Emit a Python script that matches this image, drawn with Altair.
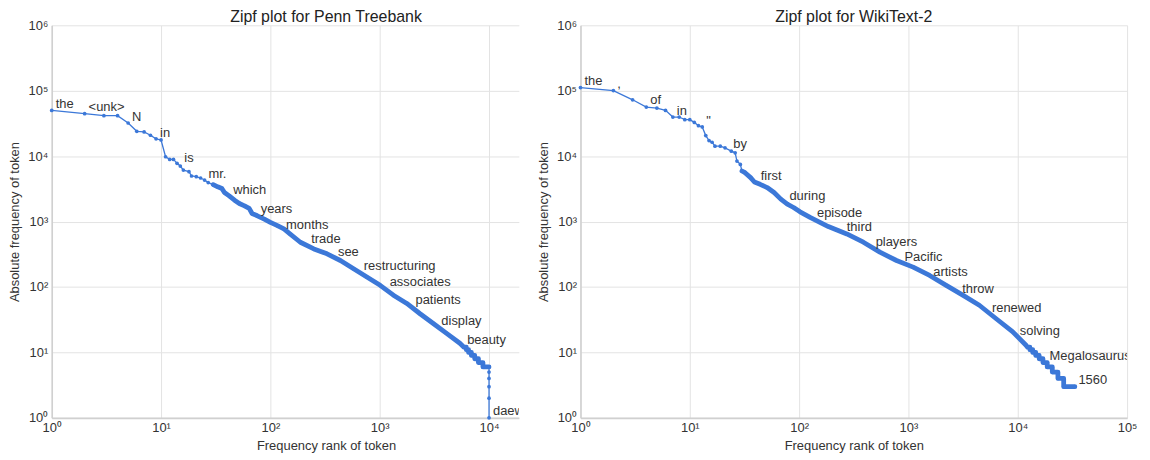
import altair as alt
import pandas as pd

# ---- Penn Treebank: rank / absolute frequency ----
ptb_rank = [1, 2, 3, 4, 5, 6, 7, 8, 9, 10, 11, 12, 13, 14, 15, 16, 18, 19, 21, 23, 25, 27, 30, 33, 36, 38,
            42, 47, 52, 58, 64, 68, 76, 88, 100, 116, 133, 152, 188, 250, 330, 437, 577, 763, 1010, 1335,
            1770, 2340, 3090, 4090, 5410, 5900, 6199, 6200, 6499, 6500, 6899, 6900, 7399, 7400, 7999,
            8000, 8799, 8800, 9995, 9996, 9997, 9998, 9999, 10000]
ptb_freq = [49900, 44500, 41500, 41500, 32100, 23950, 23450, 20850, 18360, 17650, 9780, 8910, 8900, 7750,
            7050, 6120, 5790, 4970, 4850, 4630, 4310, 3940, 3670, 3400, 3200, 2780, 2470, 2120, 1890, 1740,
            1590, 1330, 1225, 1090, 970, 865, 770, 645, 483, 382, 321, 254, 190, 142, 106, 75, 56, 39,
            27.7, 19.6, 13.8, 12, 12, 11, 11, 10, 10, 9, 9, 8, 8, 7, 7, 6, 6, 5, 4, 3, 2, 1]

ptb_words = ["the", "<unk>", "N", "in", "is", "mr.", "which", "years", "months", "trade", "see",
             "restructuring", "associates", "patients", "display", "beauty", "daewoo"]
ptb_word_rank = [1, 2, 5, 9, 15, 25, 42, 75, 128, 217, 382, 658, 1134, 1954, 3368, 5800, 10000]
ptb_word_freq = [49400, 44500, 31400, 17900, 7220, 4130, 2360, 1213, 693, 425, 269, 165, 94, 50, 24, 12, 1]

# ---- WikiText-2 ----
wt_rank = [1, 2, 3, 4, 5, 6, 7, 8, 9, 10, 11, 12, 13, 14, 15, 16, 17, 19, 21, 24, 26, 27, 29, 30, 32, 36,
           39, 44, 51, 59, 68, 78, 89, 102, 126, 185, 273, 387, 548, 778, 1104, 1563, 2215, 3140, 4450,
           6310, 8950, 11840, 12300, 12899, 12900, 13699, 13700, 14599, 14600, 15699, 15700, 16999, 17000,
           18599, 18600, 20699, 20700, 23299, 23300, 26299, 26300, 33278]
wt_freq = [111700, 100500, 72600, 56300, 54300, 50000, 39600, 39600, 36100, 36100, 32800, 29200, 27900,
           20600, 17300, 16300, 14200, 14200, 13400, 11900, 11250, 8400, 7480, 5920, 5580, 4690, 4030,
           3710, 3310, 2780, 2200, 1845, 1640, 1410, 1160, 840, 646, 483, 341, 254, 201, 150, 106, 75,
           52.6, 33, 20.8, 13, 12, 12, 11, 11, 10, 10, 9, 9, 8, 8, 7, 7, 6, 6, 5, 5, 4, 4, 3, 3]

wt_words = ["the", ",", "of", "in", '"', "by", "first", "during", "episode", "third", "players",
            "Pacific", "artists", "throw", "renewed", "solving", "Megalosaurus", "1560"]
wt_word_rank = [1, 2, 4, 7, 13, 23, 41, 75, 134, 251, 461, 846, 1552, 2850, 5336, 9590, 17980, 33000]
wt_word_freq = [110500, 99500, 56900, 38700, 26800, 11800, 3850, 1910, 1055, 646, 382, 226, 134, 74,
                37, 16.4, 7, 3]

BLUE = "#3c78d8"
FONT = "Liberation Sans"
SUP = "['\u2070','\u00b9','\u00b2','\u00b3','\u2074','\u2075','\u2076']"
LABEL_EXPR = "'10' + " + SUP + "[round(log(datum.value)/LN10)]"


def panel(title, ranks, freqs, words, wranks, wfreqs, xmax, xticks, width, title_dx, axis_title_x,
          thick_max):
    curve = pd.DataFrame({"rank": ranks, "freq": freqs})
    labels = pd.DataFrame({"word": words, "rank": wranks, "freq": wfreqs})
    xscale = alt.Scale(type="log", domain=[1, xmax], nice=False)
    yscale = alt.Scale(type="log", domain=[1, 1e6], nice=False)
    xaxis = alt.Axis(values=xticks, labelExpr=LABEL_EXPR, title="Frequency rank of token",
                     titleX=axis_title_x)
    yaxis = alt.Axis(values=[1, 10, 100, 1000, 10000, 100000, 1000000], labelExpr=LABEL_EXPR,
                     title="Absolute frequency of token")
    x = alt.X("rank:Q", scale=xscale, axis=xaxis)
    y = alt.Y("freq:Q", scale=yscale, axis=yaxis)
    base = alt.Chart(curve).encode(x=x, y=y)
    thin = base.mark_line(color=BLUE, strokeWidth=1.3)
    thick = base.transform_filter(
        f"datum.rank >= 30 && datum.rank <= {thick_max}").mark_line(
        color=BLUE, strokeWidth=4.8, strokeCap="round", strokeJoin="round")
    pts = base.mark_circle(color=BLUE, size=14, opacity=1)
    txt = alt.Chart(labels).mark_text(align="left", baseline="middle", dx=4, dy=-7, fontSize=13,
                                      font=FONT, color="#333333", clip=True).encode(
        x=alt.X("rank:Q", scale=xscale), y=alt.Y("freq:Q", scale=yscale), text="word:N")
    return alt.layer(thin, thick, pts, txt).properties(
        width=width, height=395,
        title=alt.TitleParams(title, fontSize=16, font=FONT, fontWeight="normal", color="#222222",
                              dx=title_dx, offset=-6))


left = panel("Zipf plot for Penn Treebank", ptb_rank, ptb_freq, ptb_words, ptb_word_rank,
             ptb_word_freq, 18740, [1, 10, 100, 1000, 10000], 470, 41, 276, 9995)
right = panel("Zipf plot for WikiText-2", wt_rank, wt_freq, wt_words, wt_word_rank, wt_word_freq,
              100000, [1, 10, 100, 1000, 10000, 100000], 550, 0, 275, 40000)

chart = alt.hconcat(left, right, spacing=18).properties(
    padding={"left": 0, "top": 0, "right": 5, "bottom": 0}
).configure_view(stroke=None).configure_axis(
    labelFont=FONT, titleFont=FONT, labelFontSize=13, titleFontSize=13, labelColor="#333333",
    titleColor="#333333", titleFontWeight="normal", gridColor="#e3e3e3", gridWidth=1,
    domainColor="#d0d0d0", domainWidth=1.6, ticks=False, labelPadding=4, titlePadding=6,
    labelFlush=False
).configure_axisX(titlePadding=5)

chart.save("out.html", embed_options={"renderer": "svg", "actions": False})
